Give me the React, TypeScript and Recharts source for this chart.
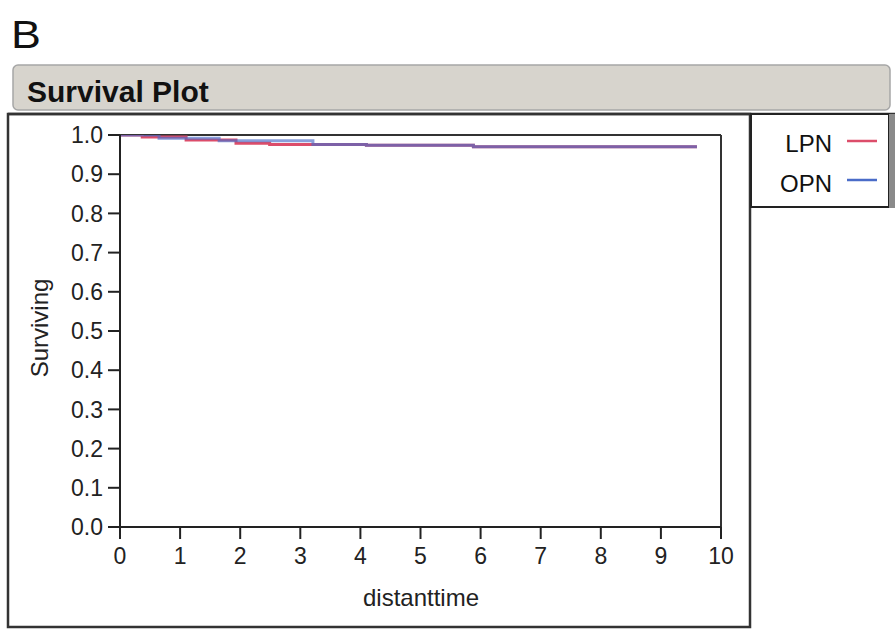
import React from 'react';
import { LineChart, Line, XAxis, YAxis, ReferenceLine } from 'recharts';

// Kaplan-Meier steps (time in years, surviving fraction)
const lpnTime = [0, 0.37, 1.1, 1.93, 2.49, 4.1, 5.88, 9.6];
const lpnSurv = [1.0, 0.995, 0.987, 0.979, 0.976, 0.974, 0.97, 0.97];
const opnTime = [0, 0.65, 1.65, 3.21, 4.1, 5.88, 9.6];
const opnSurv = [1.0, 0.992, 0.9855, 0.976, 0.974, 0.97, 0.97];

const xTicks = [0, 1, 2, 3, 4, 5, 6, 7, 8, 9, 10];
const yTicks = [0, 0.1, 0.2, 0.3, 0.4, 0.5, 0.6, 0.7, 0.8, 0.9, 1.0];

const seriesNames = ['LPN', 'OPN'];
const seriesColors = ['#dc4d6a', '#4a6cc8'];

const lpnData = lpnTime.map((t, i) => ({ t, s: lpnSurv[i] }));
const opnData = opnTime.map((t, i) => ({ t, s: opnSurv[i] }));

const FONT = '"Liberation Sans", Arial, Helvetica, sans-serif';
const W = 895;
const H = 629;

function Backdrop() {
  return (
    <svg width={W} height={H} style={{ position: 'absolute', left: 0, top: 0 }}>
      <text x={11} y={48} fontFamily={FONT} fontSize={39} fill="#111" transform="translate(11 0) scale(1.15 1) translate(-11 0)">B</text>

      {/* title bar */}
      <rect x={13} y={65} width={877} height={45} rx={5} fill="#d7d4cd" stroke="#a6a6a6" strokeWidth={1.5} />
      <text x={27} y={102} fontFamily={FONT} fontSize={30} fontWeight="bold" fill="#111">Survival Plot</text>

      {/* outer frame */}
      <rect x={8} y={114} width={742} height={513} fill="#fff" stroke="#333" strokeWidth={2.5} />
      <line x1={8} y1={114} x2={895} y2={114} stroke="#333" strokeWidth={2.5} />

      {/* legend box */}
      <rect x={751} y={114} width={138} height={93} fill="#fff" stroke="#222" strokeWidth={2} />
      <rect x={889} y={114} width={6} height={94} fill="#8a8a8a" />
      {seriesNames.map((name, i) => (
        <g key={name}>
          <text x={832} y={151.5 + i * 40} textAnchor="end" fontFamily={FONT} fontSize={24} fill="#111">{name}</text>
          <line x1={847} x2={877} y1={141 + i * 39} y2={141 + i * 39} stroke={seriesColors[i]} strokeWidth={2.5} />
        </g>
      ))}

      {/* axis titles */}
      <text x={421} y={606} textAnchor="middle" fontFamily={FONT} fontSize={24} fill="#222">distanttime</text>
      <text x={48} y={328} textAnchor="middle" fontFamily={FONT} fontSize={24} fill="#222" transform="rotate(-90 48 328)">
        Surviving
      </text>
    </svg>
  );
}

export default function App() {
  const tickStyle = { fontSize: 23, fill: '#222', fontFamily: FONT };
  return (
    <div style={{ position: 'absolute', left: 0, top: 0, width: W, height: H }}>
      <Backdrop />
      <div style={{ position: 'absolute', left: 0, top: 0 }}>
        <LineChart width={W} height={H} margin={{ top: 135, right: 174, bottom: 32, left: 60 }}>
          <XAxis
            type="number"
            dataKey="t"
            domain={[0, 10]}
            ticks={xTicks}
            height={70}
            tick={tickStyle}
            tickSize={12}
            tickMargin={9}
            axisLine={{ stroke: '#222', strokeWidth: 2 }}
            tickLine={{ stroke: '#222', strokeWidth: 2 }}
            allowDataOverflow
          />
          <YAxis
            type="number"
            domain={[0, 1]}
            ticks={yTicks}
            width={60}
            tick={tickStyle}
            tickSize={12}
            tickMargin={5}
            tickFormatter={(v: number) => v.toFixed(1)}
            axisLine={{ stroke: '#222', strokeWidth: 2 }}
            tickLine={{ stroke: '#222', strokeWidth: 2 }}
            allowDataOverflow
          />
          <ReferenceLine y={1} stroke="#333" strokeWidth={2} />
          <ReferenceLine x={10} stroke="#333" strokeWidth={2} />
          <Line
            data={lpnData}
            dataKey="s"
            name="LPN"
            type="stepAfter"
            stroke={seriesColors[0]}
            strokeWidth={3}
            dot={false}
            isAnimationActive={false}
          />
          <Line
            data={opnData}
            dataKey="s"
            name="OPN"
            type="stepAfter"
            stroke={seriesColors[1]}
            strokeOpacity={0.65}
            strokeWidth={3}
            dot={false}
            isAnimationActive={false}
          />
        </LineChart>
      </div>
    </div>
  );
}
